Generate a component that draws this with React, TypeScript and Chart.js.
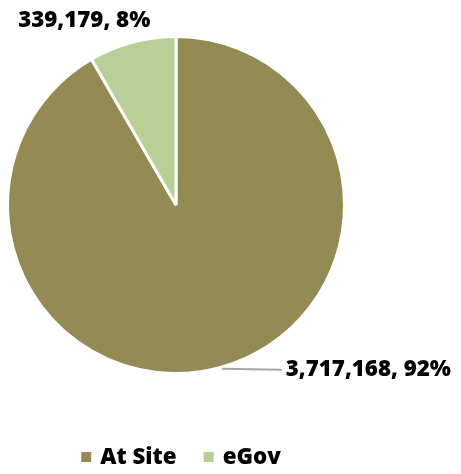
import React, { useEffect, useRef } from "react";
import { Chart, registerables } from "chart.js";

Chart.register(...registerables);

const categories = ["At Site", "eGov"];
const values = [3717168, 339179];
const colors = ["#948A54", "#BACE98"];

const FONT = "800 22.3px 'Open Sans'";

const labelPlugin = {
  id: "customLabels",
  afterDraw(chart: any) {
    const ctx = chart.ctx as CanvasRenderingContext2D;
    const meta = chart.getDatasetMeta(0);
    const total = values.reduce((a, b) => a + b, 0);
    ctx.save();
    ctx.font = FONT;
    ctx.fillStyle = "#000000";
    meta.data.forEach((arc: any, i: number) => {
      const p = arc.getProps(["x", "y", "startAngle", "endAngle", "outerRadius"], true);
      const mid = (p.startAngle + p.endAngle) / 2;
      const ex = p.x + Math.cos(mid) * p.outerRadius;
      const ey = p.y + Math.sin(mid) * p.outerRadius;
      const text = values[i].toLocaleString("en-US") + ", " + Math.round((values[i] / total) * 100) + "%";
      if (i === 0) {
        ctx.strokeStyle = "#A6A6A6";
        ctx.lineWidth = 2;
        ctx.beginPath();
        ctx.moveTo(ex + 2, ey + 1);
        ctx.lineTo(ex + 62, ey + 2);
        ctx.stroke();
        ctx.textAlign = "left";
        ctx.textBaseline = "middle";
        ctx.fillText(text, ex + 66, ey + 2);
      } else {
        ctx.textAlign = "center";
        ctx.textBaseline = "middle";
        ctx.fillText(text, ex - 48, ey - 22);
      }
    });

    // legend
    const box = 10;
    const gapText = 9;
    const gapItem = 27;
    const widths = categories.map((c) => ctx.measureText(c).width);
    const totalW = widths.reduce((a, w) => a + box + gapText + w, 0) + gapItem * (categories.length - 1);
    const cx = (chart.chartArea.left + chart.chartArea.right) / 2 + 5;
    let lx = cx - totalW / 2;
    const ly = 457;
    ctx.textAlign = "left";
    ctx.textBaseline = "middle";
    categories.forEach((c, i) => {
      ctx.fillStyle = colors[i];
      ctx.fillRect(lx, ly - box / 2, box, box);
      ctx.fillStyle = "#000000";
      ctx.fillText(c, lx + box + gapText, ly + 1);
      lx += box + gapText + widths[i] + gapItem;
    });
    ctx.restore();
  },
};

export default function App() {
  const ref = useRef<HTMLCanvasElement>(null);
  useEffect(() => {
    document.body.style.margin = "0";
    const chart = new Chart(ref.current!, {
      type: "pie",
      data: {
        labels: categories,
        datasets: [
          {
            data: values,
            backgroundColor: colors,
            borderColor: "#FFFFFF",
            borderWidth: 3,
          },
        ],
      },
      options: {
        responsive: false,
        animation: false,
        layout: { padding: { left: 6, top: 35, right: 115, bottom: 99 } },
        plugins: {
          legend: { display: false },
          tooltip: { enabled: false },
        },
      },
      plugins: [labelPlugin],
    });
    return () => chart.destroy();
  }, []);
  return (
    <div style={{ width: 461, height: 474, background: "#fff" }}>
      <canvas ref={ref} width={461} height={474} />
    </div>
  );
}
